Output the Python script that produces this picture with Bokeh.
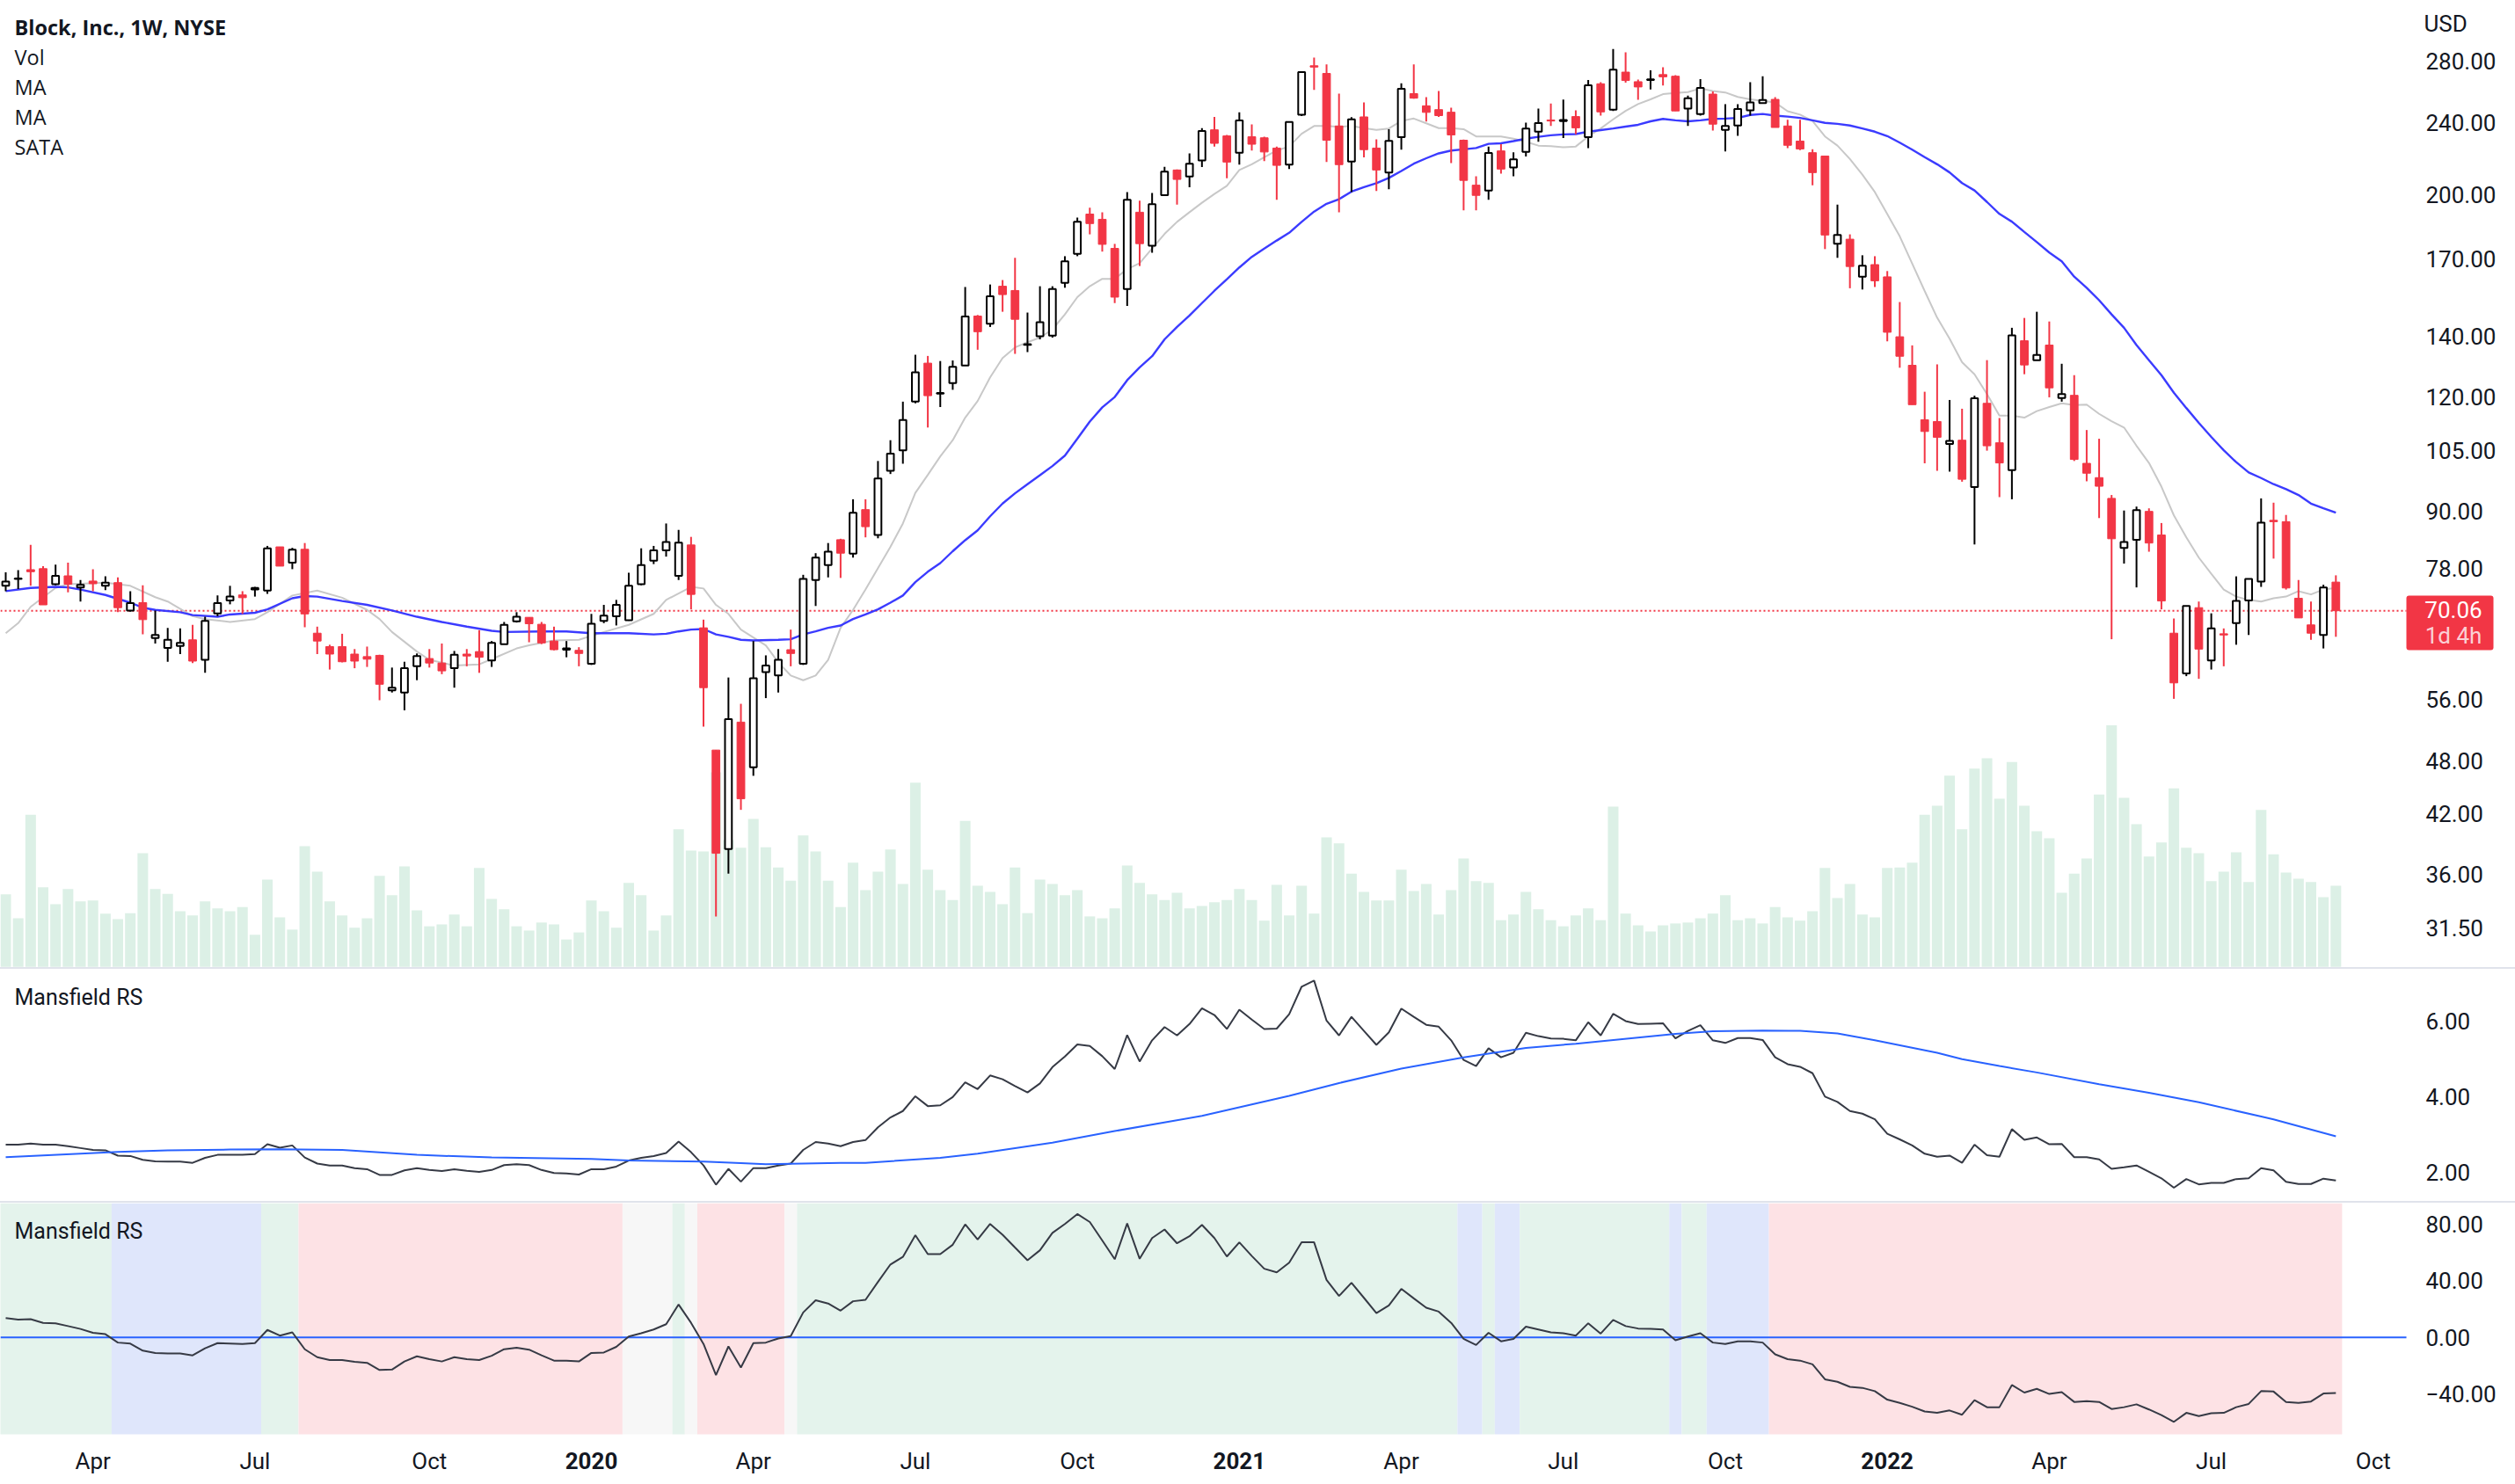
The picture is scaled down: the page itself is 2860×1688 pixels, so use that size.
from bokeh.plotting import figure
from bokeh.models import (Range1d, LinearScale, LinearAxis, Label, FixedTicker, NumeralTickFormatter,
                          Spacer, BoxAnnotation)
from bokeh.layouts import column
from bokeh.embed import file_html
from bokeh.resources import INLINE

# ---------- data ----------
opens = [74.6,75.9,77.7,77.9,74.9,76.5,74.3,75.5,74.6,75.2,70.1,71.5,65.4,63.8,64.1,65.1,61.9,69.6,71.9,72.9,73.9,73.7,82.3,79.1,81.8,66.2,64.0,64.0,62.8,62.4,62.6,57.3,57.0,60.9,62.1,61.4,60.6,62.8,63.2,61.8,64.4,68.2,68.9,67.7,64.9,63.5,63.4,61.3,68.3,69.1,68.4,74.9,79.5,81.6,76.5,82.7,67.1,49.3,38.4,52.9,47.2,60.0,59.5,63.5,61.3,75.7,78.6,83.8,80.9,90.4,84.8,99.7,105.0,118.7,130.8,121.1,124.4,130.0,147.3,144.5,158.8,157.1,137.0,140.0,140.2,160.2,172.3,190.5,188.0,174.7,157.7,191.4,175.9,199.8,212.9,209.4,218.1,235.6,232.0,222.4,231.5,230.9,225.0,215.8,244.8,276.9,271.6,237.9,217.5,243.4,225.0,211.6,231.3,258.1,250.3,247.9,246.3,229.5,204.9,202.1,223.4,214.3,222.8,234.5,241.5,240.9,243.6,231.3,264.6,247.9,272.5,266.0,267.2,270.8,269.7,248.5,245.2,257.8,235.6,238.2,247.5,252.0,254.4,237.9,229.0,222.4,220.5,176.8,178.8,162.7,167.7,162.6,139.8,130.1,113.4,112.9,106.7,107.7,95.7,118.2,107.0,99.9,138.4,131.8,136.9,119.8,120.6,101.6,98.0,93.0,82.1,83.8,90.0,84.8,66.2,59.8,70.6,61.8,66.1,67.9,71.9,75.4,88.0,87.7,72.3,67.6,65.9,75.3]
highs = [77.2,77.6,82.7,78.4,78.7,79.1,75.7,77.8,76.4,76.2,73.6,74.7,70.1,67.1,67.0,67.6,69.0,72.8,74.6,73.6,74.4,82.5,82.3,82.1,83.1,67.3,64.3,66.1,63.6,64.0,62.7,60.7,61.6,62.9,63.6,64.5,63.3,63.6,66.7,64.9,68.1,69.8,68.9,68.1,67.3,64.9,63.9,69.5,71.1,72.0,77.1,82.0,82.5,87.3,85.9,84.4,68.5,49.3,59.2,55.4,64.9,62.6,63.6,66.8,76.7,81.0,83.1,84.0,92.8,92.8,102.2,107.7,118.7,133.6,133.2,131.5,131.7,158.5,147.7,159.5,161.3,170.6,148.6,158.8,158.8,171.3,188.8,193.6,191.4,176.7,201.4,197.0,200.9,214.6,213.2,222.0,236.6,243.4,232.6,246.3,238.8,231.5,225.9,240.3,273.2,282.7,277.8,258.1,243.2,252.4,230.0,236.0,265.0,277.8,255.8,259.9,249.1,229.9,209.6,225.9,227.2,222.6,239.9,248.5,251.8,254.3,247.5,267.2,265.6,288.8,286.5,267.4,273.8,275.8,270.4,256.8,267.8,259.5,251.4,251.4,265.6,269.7,255.8,241.7,241.7,224.3,220.5,195.1,181.0,171.7,171.3,165.0,152.6,136.8,121.7,130.4,119.2,116.6,120.5,131.8,113.9,143.0,146.6,148.9,145.3,130.6,126.9,110.5,108.1,93.8,90.2,91.1,90.7,87.4,68.7,70.9,71.7,69.6,67.0,76.4,75.9,93.0,92.0,89.2,75.7,71.7,74.8,76.6]
lows = [73.6,74.0,74.6,74.2,74.7,73.4,71.7,73.6,73.8,69.8,69.9,66.0,64.5,61.6,62.8,61.4,59.9,69.1,71.2,69.5,72.6,73.1,78.4,77.8,67.2,62.8,60.4,61.5,60.6,60.8,55.9,57.0,54.5,58.8,60.7,59.7,57.7,60.9,59.9,60.8,64.4,68.0,64.7,64.4,63.4,62.3,60.9,61.1,67.9,67.5,68.3,74.7,78.8,80.3,75.7,70.3,52.3,32.4,36.1,42.4,46.2,56.2,57.0,60.9,61.1,70.9,76.2,76.1,80.1,84.3,84.1,98.9,101.5,118.2,111.2,117.1,122.3,130.0,135.3,143.3,148.9,133.9,134.5,138.9,139.5,158.2,171.3,181.0,173.3,152.2,151.1,167.1,172.8,199.4,195.1,203.8,214.5,225.9,208.5,215.8,223.6,217.7,197.5,213.4,243.9,260.5,217.2,191.4,201.4,219.8,201.9,202.8,224.1,254.8,240.6,243.4,216.7,192.3,192.3,197.5,210.9,209.6,220.3,228.6,237.9,230.8,232.9,225.0,244.2,247.1,265.4,254.2,260.9,263.4,247.1,237.9,244.2,235.2,223.1,232.0,244.2,252.0,237.0,225.0,223.8,204.9,174.4,170.6,158.0,157.5,158.5,138.2,129.3,117.8,101.6,99.7,99.5,97.0,82.8,104.9,93.3,92.8,127.2,131.8,120.0,118.7,102.2,97.1,88.5,65.2,78.9,74.3,81.3,70.3,56.1,59.4,59.0,60.4,60.9,64.3,65.9,74.4,79.9,73.9,68.8,65.1,63.7,65.6]
closes = [75.4,76.0,77.3,71.1,76.5,74.9,74.8,75.0,75.2,70.6,71.4,68.5,65.9,65.1,64.6,61.7,68.3,71.4,72.6,72.4,74.2,82.0,78.4,81.7,69.5,64.9,62.8,61.6,61.7,62.0,58.2,57.7,60.6,62.5,61.4,60.2,62.7,62.5,62.3,64.6,67.6,69.0,67.8,64.6,63.5,63.7,62.9,67.8,69.2,71.1,74.6,78.6,81.6,83.3,83.2,73.0,57.7,38.0,53.3,43.6,59.1,61.0,61.9,62.9,75.9,80.1,81.3,81.0,89.7,86.6,97.8,104.1,113.3,127.8,120.5,121.3,129.6,147.1,141.6,154.8,155.5,146.1,137.2,145.0,157.7,169.1,186.8,186.0,176.5,154.5,197.5,176.8,195.3,212.0,207.9,216.3,234.9,227.7,217.2,241.3,227.2,222.8,215.4,240.3,272.5,276.0,229.5,215.8,241.9,224.1,212.9,229.1,261.3,255.2,246.2,244.2,232.6,207.4,199.7,222.2,213.4,218.7,236.4,239.7,240.9,241.5,236.8,263.6,246.5,274.2,266.8,262.5,267.6,269.3,247.1,255.2,261.9,239.0,237.9,248.3,252.4,254.0,237.0,226.6,224.5,211.5,180.7,180.7,166.9,167.2,161.0,141.4,133.1,117.8,110.1,108.5,107.5,97.6,119.7,106.2,101.7,140.3,130.2,133.5,122.9,121.0,102.6,99.1,95.9,84.0,83.3,90.3,83.1,71.8,58.4,70.9,63.6,67.0,65.9,71.8,75.9,87.5,87.7,74.2,68.8,66.2,74.3,70.06]
volumes = [154,103,323,169,133,165,139,141,113,101,114,241,165,155,118,109,139,124,118,127,68,185,105,79,256,202,139,109,83,103,193,152,213,120,86,90,111,86,210,144,122,86,77,94,90,58,73,141,118,83,178,152,77,109,292,247,245,413,269,253,314,254,211,183,279,245,183,127,221,163,202,249,176,391,206,163,142,310,172,159,133,211,114,185,176,152,163,107,103,124,215,178,154,142,157,124,129,137,142,165,142,98,174,109,172,113,275,262,198,159,141,141,206,161,176,111,163,230,182,178,99,111,159,122,99,86,109,124,99,340,113,88,75,88,92,94,103,113,152,99,103,92,127,105,98,118,210,146,176,111,105,210,211,221,323,342,406,292,421,443,357,435,342,288,273,157,198,230,366,513,359,303,234,264,379,253,241,182,202,243,180,333,239,200,187,180,148,172]

ma_fast_bars = [0,1,2,4,5,6,8,10,12,13,15,16,18,20,21,23,25,27,29,30,31,33,34,36,38,39,41,42,44,46,48,50,52,53,55,56,57,58,59,61,62,63,64,65,66,67,68,69,70,71,72,73,74,75,76,77,78,79,80,81,82,83,84,85,86,87,88,89,90,91,92,93,94,95,96,97,98,99,100,101,102,103,104,105,106,107,108,109,110,111,112,113,114,115,116,117,118,119,120,121,122,123,124,125,126,127,128,129,130,131,132,133,134,135,136,137,138,139,140,141,142,143,144,145,146,147,148,149,150,151,152,153,154,155,156,157,158,159,160,161,162,163,164,165,166,167,168,169,170,171,172,173,174,175,176,177,178,179,180,181,182,183,184,185,186,187]
ma_fast = [66.2,67.9,70.75,74.2,74.9,75.0,75.2,74.6,72.5,71.7,69.1,68.6,68.1,68.6,69.8,72.8,73.7,72.4,70.2,68.6,66.4,63.2,61.9,61.0,61.2,62.0,63.7,64.2,65.0,65.1,66.4,67.6,69.5,72.0,74.4,74.1,71.1,69.5,66.8,64.2,61.5,59.5,58.8,59.5,61.9,67.1,70.2,73.9,78.0,82.3,87.3,94.3,98.7,103.4,107.7,114.0,118.9,126.2,132.5,136.1,137.9,139.5,142.4,147.9,154.5,158.8,161.8,161.8,165.8,168.3,174.7,181.2,186.8,191.4,196.0,200.4,204.6,212.9,216.0,219.8,223.6,225.9,233.3,237.9,237.9,237.4,237.9,236.6,235.6,236.4,240.9,242.4,239.5,236.6,236.6,236.0,231.7,231.7,231.7,230.4,228.6,226.4,226.1,225.5,225.9,231.7,236.4,241.9,247.1,251.4,254.4,257.8,258.5,259.1,261.5,259.9,258.9,256.0,254.4,253.4,252.4,246.9,244.8,240.9,231.7,226.4,218.9,210.4,201.4,190.5,180.1,168.1,156.9,146.7,139.1,131.1,127.2,121.0,114.6,114.6,114.0,115.9,117.1,118.2,117.7,117.8,115.1,113.0,111.2,106.2,101.7,95.8,89.1,84.3,80.1,76.9,73.9,72.6,72.0,71.7,72.3,72.6,73.6,73.0,73.9,74.2]

ma_slow_bars = [0,2,4,5,6,8,10,11,12,14,15,17,18,20,21,23,24,25,27,29,31,33,35,37,39,40,43,45,47,50,52,53,54,55,56,57,58,59,60,62,63,64,65,66,67,68,69,70,71,72,73,74,75,76,77,78,79,80,81,82,83,84,85,86,87,88,89,90,91,92,93,94,95,96,97,98,99,100,101,102,103,104,105,106,107,108,109,110,111,112,113,114,115,116,117,118,119,120,121,122,123,124,125,126,127,128,129,130,131,132,133,134,135,136,137,138,139,140,141,142,143,144,145,146,147,148,149,150,151,152,153,154,155,156,157,158,159,160,161,162,163,164,165,166,167,168,169,170,171,172,173,174,175,176,177,178,179,180,181,182,183,184,185,186,187]
ma_slow = [73.6,74.2,74.4,74.3,73.9,72.9,71.5,70.6,70.2,69.8,69.3,69.0,69.4,69.7,70.3,72.3,72.7,72.6,71.8,71.1,70.1,69.0,68.1,67.3,66.6,66.4,66.5,66.5,66.2,66.2,66.0,66.1,66.5,66.8,66.9,66.0,65.6,65.1,65.0,65.1,65.2,66.0,66.5,67.1,67.5,68.6,69.4,70.3,71.5,72.8,75.3,77.3,79.0,81.4,83.7,85.8,88.9,91.8,94.2,96.4,98.6,100.9,103.6,108.1,112.9,117.0,120.1,125.3,129.4,133.1,138.9,143.3,147.5,152.2,157.0,161.6,166.5,171.0,174.6,178.2,181.7,186.8,191.7,195.5,197.8,201.6,203.9,205.9,208.7,212.4,216.3,219.3,222.0,223.6,224.3,225.0,227.4,227.7,229.0,230.4,231.5,232.4,232.9,233.1,234.5,235.4,236.4,237.5,238.6,240.7,242.2,241.3,240.7,241.3,242.2,242.4,242.8,244.6,245.2,244.2,243.6,242.8,241.3,239.8,239.2,238.2,236.4,234.5,231.9,228.1,224.1,219.9,216.0,211.6,206.0,202.2,196.4,190.6,186.9,182.1,177.5,172.9,169.1,162.7,158.2,153.3,147.9,143.0,136.9,131.8,126.9,121.4,116.8,112.5,108.6,105.0,101.9,99.3,97.9,96.4,95.2,93.8,91.8,90.7,89.7]

mansfield = [2.74,2.74,2.77,2.74,2.74,2.70,2.65,2.60,2.59,2.45,2.44,2.34,2.30,2.29,2.29,2.26,2.39,2.47,2.47,2.47,2.49,2.75,2.66,2.72,2.40,2.24,2.19,2.19,2.12,2.09,1.94,1.94,2.06,2.12,2.07,2.04,2.09,2.05,2.02,2.07,2.20,2.22,2.20,2.07,1.99,1.98,1.95,2.09,2.09,2.16,2.32,2.39,2.44,2.52,2.82,2.54,2.19,1.68,2.10,1.76,2.12,2.12,2.19,2.24,2.60,2.81,2.77,2.70,2.81,2.86,3.20,3.46,3.63,4.02,3.76,3.78,4.00,4.39,4.21,4.57,4.47,4.29,4.12,4.36,4.79,5.07,5.39,5.35,5.08,4.74,5.64,4.94,5.50,5.85,5.63,5.93,6.35,6.17,5.80,6.31,6.05,5.80,5.81,6.19,6.92,7.08,6.02,5.63,6.12,5.75,5.38,5.71,6.34,6.12,5.91,5.86,5.50,4.98,4.82,5.29,5.05,5.17,5.70,5.61,5.55,5.54,5.50,5.98,5.63,6.20,6.01,5.93,5.94,5.95,5.55,5.75,5.90,5.50,5.43,5.56,5.56,5.51,5.05,4.87,4.80,4.63,4.01,3.87,3.63,3.56,3.41,3.03,2.88,2.72,2.50,2.42,2.45,2.26,2.74,2.46,2.42,3.15,2.87,2.93,2.75,2.76,2.41,2.41,2.35,2.10,2.14,2.19,2.02,1.85,1.60,1.83,1.69,1.73,1.73,1.83,1.85,2.12,2.06,1.76,1.70,1.70,1.84,1.79]
signal_bars = [0,9,13,18,22,27,33,39,47,50,56,59,61,67,69,75,78,84,89,96,103,107,112,117,122,126,134,137,141,144,147,150,155,157,160,163,168,172,176,182,187]
signal = [2.41,2.55,2.59,2.61,2.62,2.60,2.47,2.40,2.36,2.32,2.29,2.25,2.22,2.26,2.26,2.39,2.50,2.79,3.10,3.50,4.03,4.37,4.75,5.05,5.30,5.41,5.67,5.74,5.76,5.75,5.68,5.50,5.17,5.00,4.82,4.65,4.34,4.11,3.86,3.41,2.96]
normalized = [13.6,12.6,12.9,10.3,10.0,8.0,6.0,3.3,2.3,-3.6,-4.3,-9.3,-10.9,-11.3,-11.3,-12.6,-7.6,-4.0,-4.3,-4.6,-4.0,5.3,1.3,3.6,-8.3,-13.9,-15.9,-15.9,-17.2,-17.9,-22.9,-22.6,-16.9,-13.3,-15.3,-16.9,-13.9,-15.3,-15.9,-12.9,-8.3,-7.3,-8.6,-12.6,-16.3,-16.3,-16.9,-10.9,-10.6,-6.6,0.7,3.0,5.6,9.3,23.2,10.3,-4.6,-26.5,-6.3,-21.2,-4.0,-3.6,-0.7,1.0,17.6,26.2,23.9,18.9,25.5,26.5,39.1,51.4,56.7,72.0,58.7,58.7,65.3,79.6,69.0,79.9,72.3,63.3,54.4,61.4,73.6,79.9,86.9,81.3,68.3,55.1,80.3,55.4,70.0,76.0,66.3,71.3,79.3,70.0,57.0,67.0,57.4,48.4,45.8,52.7,67.0,67.0,40.5,29.2,38.5,27.9,17.2,22.6,34.2,27.5,20.9,18.2,10.3,-1.0,-5.3,3.3,-2.7,-1.0,7.6,5.6,3.6,3.0,1.3,10.0,2.7,12.3,8.0,6.3,6.0,5.6,-2.0,0.7,3.0,-3.6,-4.6,-2.7,-2.7,-3.6,-11.9,-15.3,-16.3,-18.9,-29.5,-31.2,-34.8,-35.5,-37.8,-43.8,-46.1,-48.8,-52.1,-53.1,-51.4,-54.4,-44.1,-49.1,-49.1,-33.5,-38.8,-36.2,-39.8,-38.5,-45.4,-44.8,-45.4,-50.4,-49.1,-47.1,-50.7,-54.7,-59.4,-53.1,-55.4,-53.4,-53.1,-49.1,-46.8,-37.8,-38.1,-45.4,-46.1,-45.1,-39.5,-39.1]

zone_starts = [0,9,21,24,50,54,55,56,63,64,117,119,120,122,134,135,137,142]
zone_ends = [9,21,24,50,54,55,56,63,64,117,119,120,122,134,135,137,142,188]
zone_names = ["up","flat","up","down","none","up","none","down","none","up","flat","up","flat","up","flat","up","flat","down"]

month_ticks = [7,20,34,60,73,86,112,125,138,164,177,190]
month_labels = ["Apr","Jul","Oct","Apr","Jul","Oct","Apr","Jul","Oct","Apr","Jul","Oct"]
year_ticks = [47,99,151]
year_labels = ["2020","2021","2022"]
price_ticks = [31.5,36,42,48,56,78,90,105,120,140,170,200,240,280]
rs_ticks = [2,4,6]
norm_ticks = [-40,0,40,80]
last_price = 70.06
legend_lines = ["Block, Inc., 1W, NYSE","Vol","MA","MA","SATA"]

# ---------- styles ----------
RED = "#f23645"; INK = "#131722"; VOL = "#dcf0e6"; PANE_BLUE = "#2962ff"; SEP = "#e0e3eb"
ZONE = {"up":"#e4f3ec","flat":"#dfe6fb","down":"#fde2e5","none":"#f7f7f7"}
W = 2860
FONT = "Roboto"; LEG = "Open Sans"
X0, X1, AX = -0.4234, 201.41, 192.66     # left edge, right edge, price-axis position on the bar scale
xr = Range1d(X0, X1)

def style_axis(ax, ticks, standoff):
    ax.ticker = FixedTicker(ticks=ticks)
    ax.axis_line_color = None
    ax.major_tick_line_color = None
    ax.minor_tick_line_color = None
    ax.major_label_standoff = standoff
    ax.major_label_text_font = FONT
    ax.major_label_text_font_size = "26px"
    ax.major_label_text_color = INK

def pane(h, yr, ticks, **kw):
    p = figure(width=W, height=h, x_range=xr, y_range=yr, y_axis_location="right",
               output_backend="svg", toolbar_location=None, min_border=0, **kw)
    p.xaxis.visible = False
    p.grid.visible = False
    p.outline_line_color = None
    style_axis(p.yaxis[0], ticks, 16)
    p.yaxis.fixed_location = AX
    p.yaxis.formatter = NumeralTickFormatter(format="0.00")
    return p

def txt(p, x, y, t, size="24px", font=LEG, color=INK, bold=False, align="left"):
    p.add_layout(Label(x=x, y=y, x_units="screen", y_units="screen", text=t, text_font=font, text_font_size=size,
                       text_color=color, text_font_style="bold" if bold else "normal",
                       text_align=align, text_baseline="middle"))

# ---------- main pane ----------
H1 = 1100
p1 = pane(H1, Range1d(28.49, 326.5), price_ticks, y_axis_type="log")
p1.extra_y_ranges = {"vol": Range1d(-1.5, 2051.9)}
p1.extra_y_scales = {"vol": LinearScale()}
idx = list(range(len(closes)))
p1.vbar(idx, top=volumes, bottom=0, width=0.85, color=VOL, y_range_name="vol", line_color=None)
p1.line([X0, AX], [last_price, last_price], line_color=RED, line_width=2, line_dash=[2,3])
p1.line(ma_fast_bars, ma_fast, line_color="#c8c8c8", line_width=2)
p1.line(ma_slow_bars, ma_slow, line_color="#3030ff", line_width=2.4, line_alpha=0.95)
up = [i for i in idx if closes[i] >= opens[i]]
dn = [i for i in idx if closes[i] < opens[i]]
p1.segment(up, [lows[i] for i in up], up, [highs[i] for i in up], line_color="#000000", line_width=2)
p1.segment(dn, [lows[i] for i in dn], dn, [highs[i] for i in dn], line_color=RED, line_width=2)
p1.vbar(dn, top=[opens[i] for i in dn], bottom=[closes[i] for i in dn], width=0.62, fill_color=RED, line_color=RED, line_width=1)
p1.vbar(up, top=[closes[i] for i in up], bottom=[opens[i] for i in up], width=0.55, fill_color="#ffffff", line_color="#000000", line_width=2)

for i, t in enumerate(legend_lines):
    txt(p1, 16, H1 - (30 + 34*i), t, bold=(i == 0), size="23.5px")
txt(p1, 2756, H1 - 26, "USD", size="26px", font=FONT)
p1.add_layout(BoxAnnotation(left=2736, right=2835, top=H1-677, bottom=H1-739, left_units="screen", right_units="screen",
                            top_units="screen", bottom_units="screen", fill_color=RED, fill_alpha=1, line_color=None,
                            border_radius=3))
txt(p1, 2789.5, H1-693, f"{last_price:.2f}", size="26px", font=FONT, color="#ffffff", align="center")
txt(p1, 2789.5, H1-722, "1d 4h", size="26px", font=FONT, color="#fbd0d5", align="center")

# ---------- Mansfield RS ----------
H2 = 264
p2 = pane(H2, Range1d(1.24, 7.38), rs_ticks)
p2.line(idx, mansfield, line_color="#363a45", line_width=2)
p2.line(signal_bars, signal, line_color=PANE_BLUE, line_width=2)
txt(p2, 16, H2-(1134-1102), "Mansfield RS", font=FONT, size="25px")

# ---------- zones and time axis ----------
ZB = -68.2; ZT = 94.6                     # value range covered by the coloured zones
H3 = 320
p3 = pane(H3, Range1d(-103.5, ZT), norm_ticks)
p3.yaxis.major_label_overrides = {-40: "\u221240.00"}
p3.quad(left=[s-0.5 for s in zone_starts], right=[e-0.5 for e in zone_ends], bottom=ZB, top=ZT,
        fill_color=[ZONE[z] for z in zone_names], line_color=None)
p3.line([X0, AX], [0, 0], line_color=PANE_BLUE, line_width=2)
p3.line(idx, normalized, line_color="#363a45", line_width=2)
txt(p3, 16, H3-(1400-1368), "Mansfield RS", font=FONT, size="25px")
ax_m = LinearAxis(fixed_location=ZB)
style_axis(ax_m, month_ticks, 10)
ax_m.major_label_overrides = dict(zip(month_ticks, month_labels))
p3.add_layout(ax_m, "below")
ax_y = LinearAxis(fixed_location=ZB)
style_axis(ax_y, year_ticks, 15)
ax_y.major_label_text_font_style = "bold"
ax_y.major_label_overrides = dict(zip(year_ticks, year_labels))
p3.add_layout(ax_y, "below")

def sep():
    return Spacer(width=W, height=2, styles={"background-color": SEP})

page = column(p1, sep(), p2, sep(), p3, spacing=0)
open("out.html", "w").write(file_html(page, INLINE))
